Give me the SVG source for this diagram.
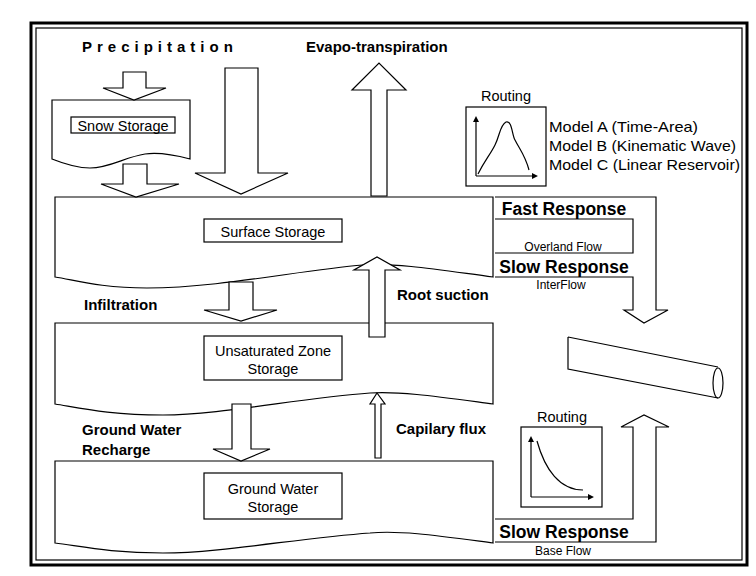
<svg xmlns="http://www.w3.org/2000/svg" width="756" height="576" viewBox="0 0 756 576">
<style>
.s{fill:#fff;stroke:#000;stroke-width:1.2}
.l{fill:none;stroke:#000;stroke-width:1.2}
text{font-family:"Liberation Sans",Arial,sans-serif;fill:#000}
.b{font-weight:bold;font-size:15px}
.r{font-weight:bold;font-size:17.5px}
.n{font-size:14.5px}
.m{font-size:12px}
</style>
<rect width="756" height="576" fill="#fff"/>
<rect x="31" y="23" width="716" height="542" fill="none" stroke="#000" stroke-width="3"/>
<rect x="36" y="28" width="706" height="532" fill="none" stroke="#000" stroke-width="1.2"/>
<g id="ground">
<path class="s" d="M55 461 H493 V543 C440 536 400 530 370 533 C300 538 220 553 163 553 C110 553 80 546 55 543 Z"/>
<rect class="s" x="204" y="473" width="138" height="46"/>
<text class="n" x="273" y="494" text-anchor="middle">Ground Water</text>
<text class="n" x="273" y="512" text-anchor="middle">Storage</text>
</g>
<g id="unsat">
<path class="s" d="M55 323 H493 V404 C440 397 400 391 370 393 C300 398 220 415 163 415 C110 415 80 408 55 404 Z"/>
<rect class="s" x="204" y="336" width="138" height="44"/>
<text class="n" x="273" y="356" text-anchor="middle">Unsaturated Zone</text>
<text class="n" x="273" y="374" text-anchor="middle">Storage</text>
</g>
<g id="surface">
<path class="s" d="M55 197 H493 V277 C440 270 400 263 363 265 C300 270 220 288 147 288 C100 288 75 280 55 277 Z"/>
<rect class="s" x="204" y="219" width="138" height="23"/>
<text class="n" x="273" y="237" text-anchor="middle">Surface Storage</text>
</g>
<g id="snow">
<path class="s" d="M52 100 H190 V159 C175 155 160 152 145 154 C125 157 110 168 90 168 C75 168 62 163 52 159 Z"/>
<rect class="s" x="71" y="117" width="104" height="16"/>
<text class="n" x="123" y="131" text-anchor="middle">Snow Storage</text>
</g>
<g id="connectors">
<path class="s" d="M123 72 H146 V88 H166 L134 100 L103 88 H123 Z"/>
<path class="s" d="M123 164 H147 V184 H179 L136 197 L101 184 H123 Z"/>
<path class="s" d="M225 68 H258 V173 H288 L241 194 L195 173 H225 Z"/>
<path class="s" d="M371 196 V90 H352 L379 63 L406 90 H387 V196 Z"/>
<path class="s" d="M229 282 H253 V310 H277 L241 321 L204 310 H229 Z"/>
<path class="s" d="M369 337 V270 H354 L377 257 L400 270 H385 V337 Z"/>
<path class="s" d="M232 404 H251 V449 H270 L241 461 L213 449 H232 Z"/>
<path class="s" d="M375 458 V404 H370 L377 393 L385 404 H381 V458 Z"/>
<path class="l" d="M495 197 H656 V310 H668 L644 323 L624 310 H633 V277 H495"/>
<path class="l" d="M495 219 H633 V253 H495"/>
<path class="l" d="M495 542 H656 V427 H669 L644 415 L621 427 H633 V519 H495"/>
<path class="l" d="M568 337 L718 367 M568 337 V369 L718 398"/>
<ellipse class="l" cx="718" cy="383" rx="5" ry="15"/>
</g>
<g id="routing1">
<rect class="s" x="466" y="107" width="80" height="79"/>
<path class="l" d="M476 176 V120 M476 176 H534"/>
<path d="M473 122 L476 116 L479 122 Z M532 173 L538 176 L532 179 Z"/>
<path class="l" d="M478 174 C485 160 490 155 495 145 C500 135 500 125 506 122 C512 120 512 135 515 140 C520 150 525 155 529 170"/>
<text class="n" x="506" y="101" text-anchor="middle">Routing</text>
<text class="n" x="549" y="132" textLength="149" lengthAdjust="spacingAndGlyphs">Model A (Time-Area)</text>
<text class="n" x="549" y="151" textLength="187" lengthAdjust="spacingAndGlyphs">Model B (Kinematic Wave)</text>
<text class="n" x="549" y="170" textLength="191" lengthAdjust="spacingAndGlyphs">Model C (Linear Reservoir)</text>
</g>
<g id="routing2">
<rect class="s" x="521" y="427" width="81" height="80"/>
<path class="l" d="M531 497 V440 M531 497 H590"/>
<path d="M528 442 L531 436 L534 442 Z M588 494 L594 497 L588 500 Z"/>
<path class="l" d="M537 441 C545 470 560 490 583 490"/>
<text class="n" x="562" y="422" text-anchor="middle">Routing</text>
</g>
<g id="labels">
<text class="b" x="82" y="52" letter-spacing="5">Precipitation</text>
<text class="b" x="306" y="52">Evapo-transpiration</text>
<text class="b" x="84" y="310">Infiltration</text>
<text class="b" x="397" y="300">Root suction</text>
<text class="b" x="82" y="435">Ground Water</text>
<text class="b" x="82" y="455">Recharge</text>
<text class="b" x="396" y="434">Capilary flux</text>
<text class="r" x="564" y="215" text-anchor="middle">Fast Response</text>
<text class="m" x="563" y="251" text-anchor="middle">Overland Flow</text>
<text class="r" x="564" y="273" text-anchor="middle">Slow Response</text>
<text class="m" x="561" y="289" text-anchor="middle">InterFlow</text>
<text class="r" x="564" y="538" text-anchor="middle">Slow Response</text>
<text class="m" x="563" y="555" text-anchor="middle">Base Flow</text>
</g>
</svg>
